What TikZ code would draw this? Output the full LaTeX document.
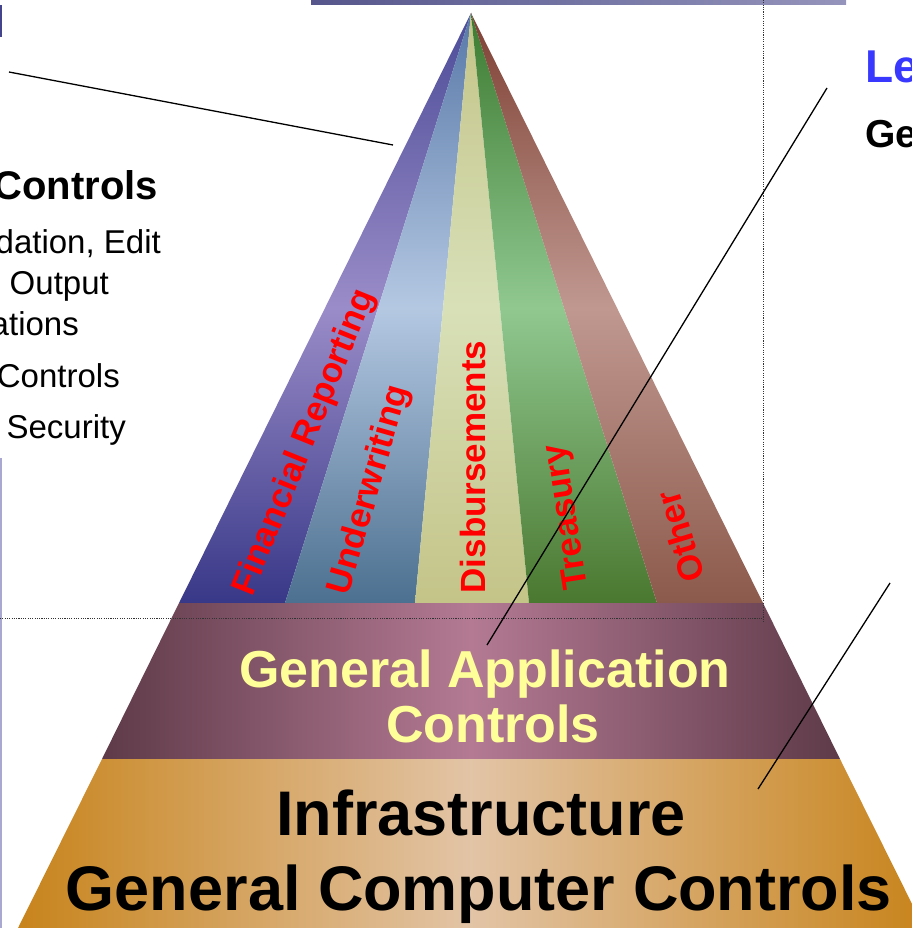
\documentclass[tikz,border=0pt]{standalone}
\usepackage{fontspec}
\setmainfont{Liberation Sans}
\usetikzlibrary{calc}
\definecolor{sOneT}{HTML}{4C4C98}\definecolor{sOneM}{HTML}{9A8CC8}\definecolor{sOneB}{HTML}{383888}
\definecolor{sTwoT}{HTML}{5878A8}\definecolor{sTwoM}{HTML}{B4C8E2}\definecolor{sTwoB}{HTML}{4C7090}
\definecolor{sThrT}{HTML}{C4C488}\definecolor{sThrM}{HTML}{D8E0B8}\definecolor{sThrB}{HTML}{C4C488}
\definecolor{sFouT}{HTML}{3C7A30}\definecolor{sFouM}{HTML}{90C890}\definecolor{sFouB}{HTML}{4A7830}
\definecolor{sFivT}{HTML}{7E4034}\definecolor{sFivM}{HTML}{C09890}\definecolor{sFivB}{HTML}{8C5A4C}
\definecolor{appEdge}{HTML}{5E3A48}\definecolor{appMid}{HTML}{B47A94}
\definecolor{infEdge}{HTML}{C8841C}\definecolor{infMid}{HTML}{E2C4A6}
\definecolor{lblYel}{HTML}{FFFF99}\definecolor{leBlue}{HTML}{3838FF}
\definecolor{barL}{HTML}{56568C}\definecolor{barR}{HTML}{9494BC}
\definecolor{edgeLav}{HTML}{A8A8D0}\definecolor{cornerBlue}{HTML}{44448C}
\tikzset{
  stripelbl/.style={text=red, font=\fontsize{35}{40}\selectfont\bfseries, inner sep=0pt},
  applbl/.style={text=lblYel, font=\fontsize{52}{60}\selectfont\bfseries, inner sep=0pt, anchor=base},
  inflbl/.style={text=black, font=\fontsize{63}{70}\selectfont\bfseries, inner sep=0pt, anchor=base},
  lefthead/.style={font=\fontsize{40}{46}\selectfont\bfseries, inner sep=0pt, anchor=base east},
  leftbody/.style={font=\fontsize{33}{38}\selectfont, inner sep=0pt, anchor=base east},
  connector/.style={draw=black, line width=1.3pt},
  dotline/.style={draw=black!80, line width=1pt, dash pattern=on 1.1pt off 1.2pt}
}
\begin{document}
\begin{tikzpicture}[x=1pt,y=-1pt]
\useasboundingbox (0,0) rectangle (911,928);
% pyramid key points
\coordinate (apex) at (471,13);
\coordinate (s0) at (179,603);
\coordinate (s1) at (285,603);
\coordinate (s2) at (415,603);
\coordinate (s3) at (529,603);
\coordinate (s4) at (657,603);
\coordinate (s5) at (763,603);
\coordinate (aL) at (102,759);
\coordinate (aR) at (840,759);
\coordinate (bL) at (18,928);
\coordinate (bR) at (924,928);
% stripes
\shade[top color=sOneT, bottom color=sOneB, middle color=sOneM] (apex) -- (s0) -- (s1) -- cycle;
\shade[top color=sTwoT, bottom color=sTwoB, middle color=sTwoM] (apex) -- (s1) -- (s2) -- cycle;
\shade[top color=sThrT, bottom color=sThrB, middle color=sThrM] (apex) -- (s2) -- (s3) -- cycle;
\shade[top color=sFouT, bottom color=sFouB, middle color=sFouM] (apex) -- (s3) -- (s4) -- cycle;
\shade[top color=sFivT, bottom color=sFivB, middle color=sFivM] (apex) -- (s4) -- (s5) -- cycle;
% bands
\shade[left color=appEdge, right color=appEdge, middle color=appMid] (s0) -- (s5) -- (aR) -- (aL) -- cycle;
\shade[left color=infEdge, right color=infEdge, middle color=infMid] (aL) -- (aR) -- (bR) -- (bL) -- cycle;
% frame decorations
\shade[left color=barL, right color=barR] (311,0) rectangle (846,5);
\fill[cornerBlue] (0,5) rectangle (2.3,37);
\fill[edgeLav] (0,458) rectangle (2.3,928);
% dotted guides
\coordinate (dvTop) at (763,0);
\coordinate (dvBot) at (763,622);
\coordinate (dhL) at (0,618);
\coordinate (dhR) at (763,618);
\draw[dotline] (dvTop) -- (dvBot);
\draw[dotline] (dhL) -- (dhR);
% stripe labels
\node[stripelbl, rotate=68] (finrep) at (305,443) {Financial Reporting};
\node[stripelbl, rotate=74] (underw) at (370,490) {Underwriting};
\node[stripelbl, rotate=90] (disb) at (473,467) {Disbursements};
\node[stripelbl, rotate=99] (treas) at (568,517) {Treasury};
\node[stripelbl, rotate=107] (other) at (680,537) {Other};
% band labels
\node[applbl] (gaOne) at (485,687) {General Application};
\node[applbl] (gaTwo) at (493,742) {Controls};
\node[inflbl] (infOne) at (481,835) {Infrastructure};
\node[inflbl] (infTwo) at (479,910) {General Computer Controls};
% left text
\node[lefthead] (lhead) at (158,200) {Controls};
\node[leftbody] (lOne) at (161,253) {dation, Edit};
\node[leftbody] (lTwo) at (109,294) {Output};
\node[leftbody] (lThr) at (79,335) {ations};
\node[leftbody] (lFou) at (120,387) {Controls};
\node[leftbody] (lFiv) at (126,438) {Security};
% right text
\node[font=\fontsize{46}{52}\selectfont\bfseries, text=leBlue, inner sep=0pt, anchor=base west] (rLe) at (865,83) {Le};
\node[font=\fontsize{39}{45}\selectfont\bfseries, inner sep=0pt, anchor=base west] (rGe) at (865,148) {Ge};
% connector lines
\coordinate (cOneA) at (9,72);
\coordinate (cOneB) at (393,145);
\coordinate (cTwoA) at (827,88);
\coordinate (cTwoB) at (487,645);
\coordinate (cThrA) at (890,583);
\coordinate (cThrB) at (758,789);
\draw[connector] (cOneA) -- (cOneB);
\draw[connector] (cTwoA) -- (cTwoB);
\draw[connector] (cThrA) -- (cThrB);
\end{tikzpicture}
\end{document}
